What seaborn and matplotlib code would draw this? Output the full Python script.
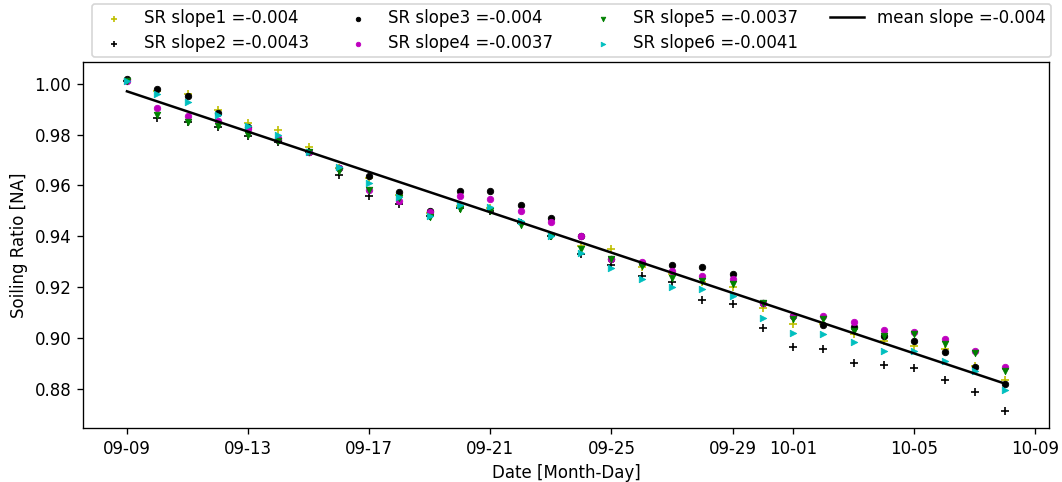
import matplotlib
matplotlib.use("Agg")
import matplotlib.pyplot as plt
import matplotlib.dates as mdates
import seaborn as sns
import pandas as pd

start_date = "2020-09-09"
n_days = 30
dates = pd.date_range(start_date, periods=n_days, freq="D")

sr1 = [1.001, 0.997, 0.996, 0.9897, 0.9846, 0.9816, 0.975, 0.967, 0.963, 0.956,
       0.949, 0.952, 0.951, 0.945, 0.940, 0.936, 0.9349, 0.928, 0.925, 0.922,
       0.9201, 0.9118, 0.9053, 0.9053, 0.9013, 0.8987, 0.8967, 0.8955, 0.889, 0.8833]
sr2 = [1.001, 0.9865, 0.985, 0.983, 0.9795, 0.977, 0.973, 0.964, 0.9559, 0.9526,
       0.948, 0.951, 0.950, 0.945, 0.940, 0.9329, 0.9285, 0.9243, 0.922, 0.9147,
       0.9134, 0.9039, 0.8963, 0.8954, 0.8901, 0.8891, 0.8881, 0.8832, 0.8785, 0.871]
sr3 = [1.002, 0.998, 0.9951, 0.9884, 0.983, 0.978, 0.973, 0.967, 0.9638, 0.9572,
       0.950, 0.9579, 0.9579, 0.9522, 0.9471, 0.940, 0.931, 0.9295, 0.9285, 0.9279,
       0.925, 0.9138, 0.9085, 0.905, 0.9043, 0.9006, 0.8987, 0.8945, 0.8884, 0.8818]
sr4 = [1.001, 0.9904, 0.9872, 0.9855, 0.982, 0.9786, 0.973, 0.967, 0.958, 0.9537,
       0.9495, 0.9559, 0.9546, 0.950, 0.9454, 0.9401, 0.931, 0.9299, 0.9263, 0.9241,
       0.9233, 0.9138, 0.9085, 0.9085, 0.9062, 0.9029, 0.9024, 0.8993, 0.8947, 0.8884]
sr5 = [1.001, 0.9875, 0.9849, 0.9835, 0.980, 0.9776, 0.973, 0.9658, 0.9583, 0.955,
       0.9474, 0.9507, 0.950, 0.9443, 0.940, 0.9351, 0.9309, 0.9283, 0.9237, 0.9224,
       0.921, 0.9135, 0.9075, 0.9072, 0.9026, 0.9006, 0.9013, 0.8976, 0.894, 0.8868]
sr6 = [1.001, 0.996, 0.9928, 0.9875, 0.9835, 0.980, 0.973, 0.9671, 0.9608, 0.9555,
       0.948, 0.9522, 0.9513, 0.946, 0.9399, 0.9335, 0.9276, 0.923, 0.9201, 0.9191,
       0.9164, 0.9079, 0.902, 0.9013, 0.8983, 0.8947, 0.8947, 0.8908, 0.8868, 0.8796]

series_values = [sr1, sr2, sr3, sr4, sr5, sr6]
series_labels = ["SR slope1 =-0.004", "SR slope2 =-0.0043", "SR slope3 =-0.004",
                 "SR slope4 =-0.0037", "SR slope5 =-0.0037", "SR slope6 =-0.0041"]
series_colors = ["y", "k", "k", "m", "g", "c"]
series_markers = ["+", "+", "o", "o", "v", ">"]

mean_label = "mean slope =-0.004"
mean_line_dates = pd.to_datetime(["2020-09-09", "2020-10-08"])
mean_line_values = [0.997, 0.8819]

DPI = 120
fig, ax = plt.subplots(figsize=(1062 / DPI, 482 / DPI), dpi=DPI)
fig.subplots_adjust(left=0.0782, right=0.9878, top=0.8714, bottom=0.112)

for vals, lab, col, mk in zip(series_values, series_labels, series_colors, series_markers):
    if mk == "+":
        sns.scatterplot(x=dates, y=vals, ax=ax, color=col, marker=mk, s=22,
                        linewidth=1.0, label=lab, legend=False)
    else:
        sns.scatterplot(x=dates, y=vals, ax=ax, color=col, marker=mk, s=15,
                        edgecolor="face", linewidth=0.5, label=lab, legend=False)

sns.lineplot(x=mean_line_dates, y=mean_line_values, ax=ax, color="k",
             linewidth=1.5, label=mean_label, legend=False)

ax.xaxis.set_major_locator(mdates.DayLocator(bymonthday=[1, 5, 9, 13, 17, 21, 25, 29]))
ax.xaxis.set_major_formatter(mdates.DateFormatter("%m-%d"))
ax.set_xlabel("Date [Month-Day]")
ax.set_ylabel("Soiling Ratio [NA]")

handles, labels = ax.get_legend_handles_labels()
fig.legend(handles, labels, loc="lower left", ncol=4, mode="expand",
           bbox_to_anchor=(92 / 1062, 1 - 57 / 482, 959 / 1062, 0.05),
           bbox_transform=fig.transFigure, borderaxespad=0.0, fontsize=10,
           markerscale=0.7, labelspacing=0.42, borderpad=0.3)

fig.savefig("out.png", dpi=DPI)
